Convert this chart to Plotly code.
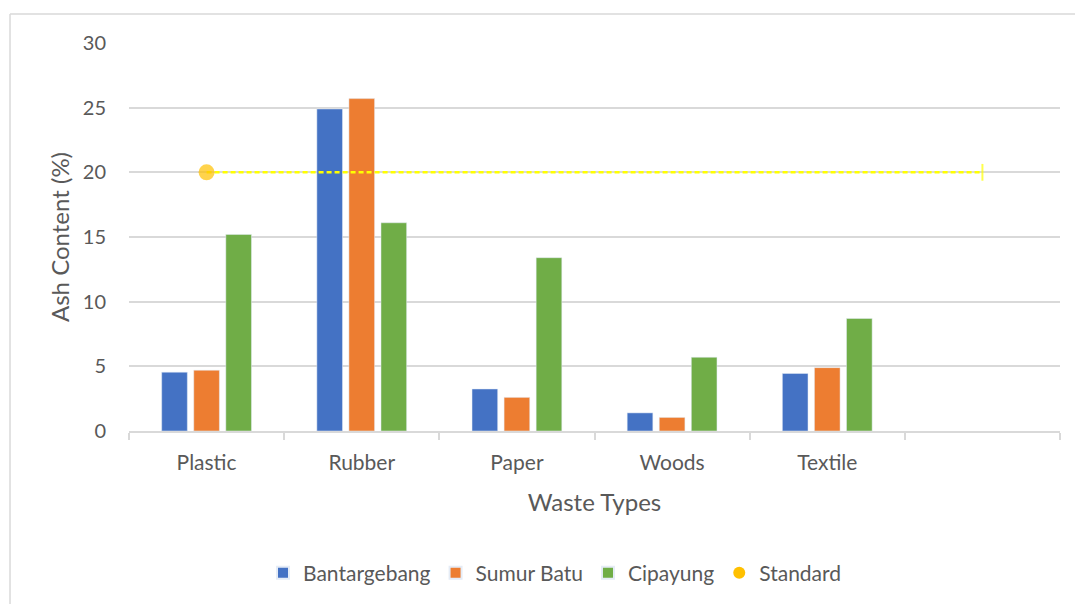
import plotly.graph_objects as go

categories = ["Plastic", "Rubber", "Paper", "Woods", "Textile", " "]
bantargebang = [4.55, 24.9, 3.25, 1.4, 4.45, None]
sumur_batu = [4.7, 25.7, 2.6, 1.05, 4.9, None]
cipayung = [15.2, 16.1, 13.4, 5.7, 8.7, None]
standard = [20, 20, 20, 20, 20, 20]

FONT = "Lato, 'Open Sans', sans-serif"
GREY = "#595959"

fig = go.Figure()
fig.add_bar(x=categories, y=bantargebang, name="Bantargebang", marker_color="#4472C4")
fig.add_bar(x=categories, y=sumur_batu, name="Sumur Batu", marker_color="#ED7D31")
fig.add_bar(x=categories, y=cipayung, name="Cipayung", marker_color="#70AD47")

n = len(standard)
symbols = ["circle"] + ["circle"] * (n - 2) + ["line-ns"]
sizes = [16] + [0] * (n - 2) + [12]
fig.add_scatter(
    x=categories, y=standard, mode="lines+markers", showlegend=False,
    line=dict(color="#FFFF00", width=2.5, dash="5px,3px"),
    marker=dict(symbol=symbols, size=sizes, color=["#FFC000"] + ["#FFFF00"] * (n - 1),
                line=dict(color=["#FFC000"] + ["#FFFF00"] * (n - 1), width=[0] + [0] * (n - 2) + [2])),
)
fig.add_scatter(
    x=[None], y=[None], mode="markers", name="Standard",
    marker=dict(symbol="circle", size=16, color="#FFC000"),
)

# chart border (Excel-like outer frame)
fig.add_shape(type="line", xref="paper", yref="paper", x0=-0.1278, x1=1.03, y0=1.0746, y1=1.0746,
              line=dict(color="#D9D9D9", width=1.5))
fig.add_shape(type="line", xref="paper", yref="paper", x0=-0.1278, x1=-0.1278, y0=1.0746, y1=-0.47,
              line=dict(color="#D9D9D9", width=1.5))

fig.update_layout(
    width=1075, height=604,
    margin=dict(l=129, r=15, t=43, b=172),
    paper_bgcolor="white", plot_bgcolor="white",
    font=dict(family=FONT, color=GREY, size=20),
    barmode="group", bargap=0.38, bargroupgap=0.2,
    showlegend=True,
    legend=dict(orientation="h", x=0.4576, xanchor="center", y=-0.3625, yanchor="middle",
                font=dict(size=21, color=GREY), itemsizing="constant",
                traceorder="normal", itemwidth=30),
    xaxis=dict(
        categoryorder="array", categoryarray=categories,
        showgrid=False, showline=True, linecolor="#D9D9D9", linewidth=1.5,
        ticks="outside", tickson="boundaries", ticklen=7, tickcolor="#D9D9D9", tickwidth=1.5,
        tickfont=dict(size=21, color=GREY), ticklabelstandoff=12,
        title=dict(text="Waste Types", font=dict(size=24, color=GREY), standoff=21),
    ),
    yaxis=dict(
        range=[0, 30], tickvals=[0, 5, 10, 15, 20, 25, 30],
        showgrid=True, gridcolor="#D9D9D9", gridwidth=1.5, zeroline=False, showline=False,
        tickfont=dict(size=20, color=GREY), ticks="", ticklabelstandoff=22,
        title=dict(text="Ash Content (%)", font=dict(size=24, color=GREY), standoff=6),
    ),
)

fig.write_html("out.html")
